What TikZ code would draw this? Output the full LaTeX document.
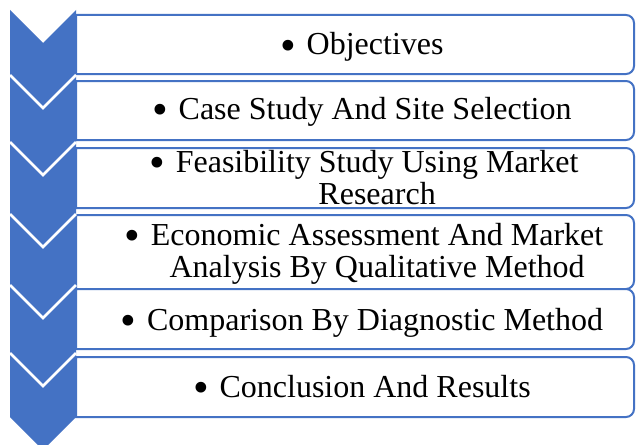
\documentclass[tikz,border=0pt]{standalone}
\usepackage{graphicx}
\usepackage{fontspec}
\setmainfont{Liberation Serif}
\definecolor{sablue}{HTML}{4472C4}
\tikzset{
  chev/.style={fill=sablue, draw=none},
  gapline/.style={draw=white, line width=2.8pt},
  box/.style={draw=sablue, line width=2pt, fill=white},
  lbl/.style={anchor=base, inner sep=0pt, font=\fontsize{32}{32}\selectfont},
}
\newcommand{\bul}{\raisebox{-0.18em}{\scalebox{1.4}{\textbullet}}\hspace{0.33em}}
\newcommand{\sabox}[2]{%
  \draw[box] (76,#1) -- (626,#1) arc[start angle=-90,end angle=0,radius=8]
    -- (634,#2-8) arc[start angle=0,end angle=90,radius=8] -- (76,#2) -- cycle;}
\begin{document}
\begin{tikzpicture}[x=1pt,y=-1pt]
\clip (0,0) rectangle (636,444);
\fill[white] (0,0) rectangle (636,444);
% boxes
\sabox{15}{74}
\sabox{81}{140}
\sabox{148}{208}
\sabox{215}{289}
\sabox{289}{349}
\sabox{357}{417}
% chevrons
\fill[chev] (10,10) -- (43,43) -- (76,10) -- (76,75) -- (43,108) -- (10,75) -- cycle;
\fill[chev] (10,75) -- (43,108) -- (76,75) -- (76,142) -- (43,175) -- (10,142) -- cycle;
\fill[chev] (10,142) -- (43,175) -- (76,142) -- (76,214) -- (43,247) -- (10,214) -- cycle;
\fill[chev] (10,214) -- (43,247) -- (76,214) -- (76,285) -- (43,318) -- (10,285) -- cycle;
\fill[chev] (10,285) -- (43,318) -- (76,285) -- (76,353) -- (43,386) -- (10,353) -- cycle;
\fill[chev] (10,353) -- (43,386) -- (76,353) -- (76,417) -- (43,450) -- (10,417) -- cycle;
\draw[gapline] (10,75) -- (43,108) -- (76,75);
\draw[gapline] (10,142) -- (43,175) -- (76,142);
\draw[gapline] (10,214) -- (43,247) -- (76,214);
\draw[gapline] (10,285) -- (43,318) -- (76,285);
\draw[gapline] (10,353) -- (43,386) -- (76,353);
% labels
\node[lbl] (t1) at (362,55) {\bul Objectives};
\node[lbl] (t2) at (362,119) {\bul Case Study And Site Selection};
\node[lbl] (t3) at (364,172) {\bul\begin{tabular}[t]{@{}c@{}}Feasibility Study Using Market\\Research\end{tabular}};
\node[lbl] (t4) at (364,245) {\bul\begin{tabular}[t]{@{}c@{}}Economic Assessment And Market\\Analysis By Qualitative Method\end{tabular}};
\node[lbl] (t5) at (362,330) {\bul Comparison By Diagnostic Method};
\node[lbl] (t6) at (362,397) {\bul Conclusion And Results};
\end{tikzpicture}
\end{document}
